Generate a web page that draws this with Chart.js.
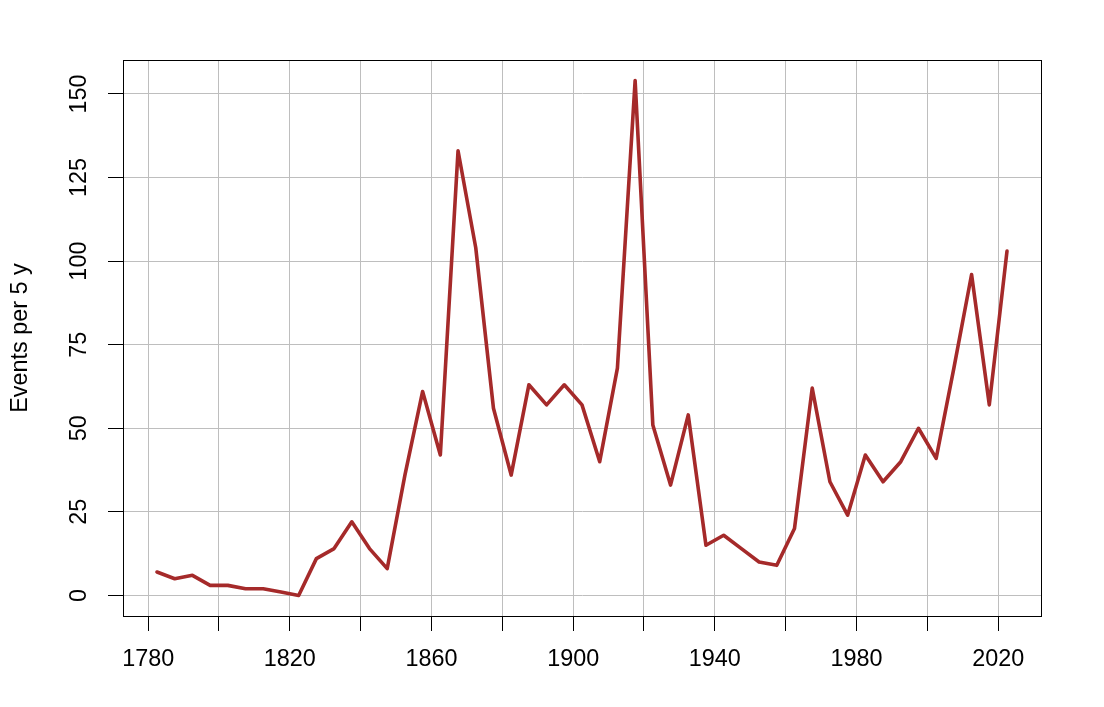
<!DOCTYPE html>
<html>
<head>
<meta charset="utf-8">
<script src="https://cdn.jsdelivr.net/npm/chart.js@4/dist/chart.umd.min.js"></script>
<style>
  html, body { margin: 0; padding: 0; background: #ffffff; }
  #wrap { width: 1104px; height: 707px; }
</style>
</head>
<body>
<div id="wrap"><canvas id="c" width="1104" height="707"></canvas></div>
<script>
const years = [1782.5, 1787.5, 1792.5, 1797.5, 1802.5, 1807.5, 1812.5, 1817.5, 1822.5, 1827.5,
               1832.5, 1837.5, 1842.5, 1847.5, 1852.5, 1857.5, 1862.5, 1867.5, 1872.5, 1877.5,
               1882.5, 1887.5, 1892.5, 1897.5, 1902.5, 1907.5, 1912.5, 1917.5, 1922.5, 1927.5,
               1932.5, 1937.5, 1942.5, 1947.5, 1952.5, 1957.5, 1962.5, 1967.5, 1972.5, 1977.5,
               1982.5, 1987.5, 1992.5, 1997.5, 2002.5, 2007.5, 2012.5, 2017.5, 2022.5];
const events = [7, 5, 6, 3, 3, 2, 2, 1, 0, 11,
                14, 22, 14, 8, 36, 61, 42, 133, 104, 56,
                36, 63, 57, 63, 57, 40, 68, 154, 51, 33,
                54, 15, 18, 14, 10, 9, 20, 62, 34, 24,
                42, 34, 40, 50, 41, 68, 96, 57, 103];
const xTicks = [1780, 1800, 1820, 1840, 1860, 1880, 1900, 1920, 1940, 1960, 1980, 2000, 2020];
const xTickLabels = ['1780', '', '1820', '', '1860', '', '1900', '', '1940', '', '1980', '', '2020'];
const yTicks = [0, 25, 50, 75, 100, 125, 150];
const yTitle = 'Events per 5 y';

const FONT = "'Liberation Sans', Arial, sans-serif";
Chart.defaults.font.family = FONT;
Chart.defaults.color = '#000000';

const boxPlugin = {
  id: 'rbox',
  afterDraw(chart) {
    const a = chart.chartArea, ctx = chart.ctx;
    ctx.save();
    ctx.strokeStyle = '#000000';
    ctx.lineWidth = 1;
    ctx.strokeRect(Math.round(a.left) + 0.5, Math.round(a.top) + 0.5,
                   Math.round(a.right - a.left), Math.round(a.bottom - a.top));
    ctx.restore();
  }
};

new Chart(document.getElementById('c'), {
  type: 'line',
  data: {
    datasets: [{
      data: years.map((y, i) => ({ x: y, y: events[i] })),
      borderColor: '#A52A2A',
      borderWidth: 3.6,
      pointRadius: 0,
      tension: 0,
      borderJoinStyle: 'round',
      borderCapStyle: 'round',
      fill: false,
      clip: false
    }]
  },
  options: {
    responsive: false,
    animation: false,
    devicePixelRatio: 1,
    layout: { padding: { left: 0, right: 63, top: 60, bottom: 0 } },
    plugins: { legend: { display: false }, tooltip: { enabled: false } },
    scales: {
      x: {
        type: 'linear',
        min: 1772.9,
        max: 2032.1,
        afterBuildTicks(scale) { scale.ticks = xTicks.map(v => ({ value: v })); },
        afterFit(scale) { scale.height = 91; },
        ticks: {
          autoSkip: false,
          maxRotation: 0,
          minRotation: 0,
          padding: 15,
          font: { size: 23.4, family: FONT },
          color: '#000000',
          callback(v) { const i = xTicks.indexOf(v); return i >= 0 ? xTickLabels[i] : ''; }
        },
        grid: {
          color: '#BEBEBE',
          lineWidth: 1,
          tickColor: '#000000',
          tickLength: 15,
          drawTicks: true
        },
        border: { display: true, color: '#000000', width: 1 }
      },
      y: {
        type: 'linear',
        min: -6.16,
        max: 160.16,
        afterBuildTicks(scale) { scale.ticks = yTicks.map(v => ({ value: v })); },
        afterFit(scale) { scale.width = 123; },
        title: {
          display: true,
          text: yTitle,
          font: { size: 23.4, family: FONT },
          color: '#000000',
          padding: { top: 7, bottom: 0 }
        },
        ticks: {
          autoSkip: false,
          minRotation: 90,
          maxRotation: 90,
          crossAlign: 'center',
          padding: 9,
          font: { size: 23.4, family: FONT },
          color: '#000000'
        },
        grid: {
          color: '#BEBEBE',
          lineWidth: 1,
          tickColor: '#000000',
          tickLength: 15,
          drawTicks: true
        },
        border: { display: true, color: '#000000', width: 1 }
      }
    }
  },
  plugins: [boxPlugin]
});
</script>
</body>
</html>
